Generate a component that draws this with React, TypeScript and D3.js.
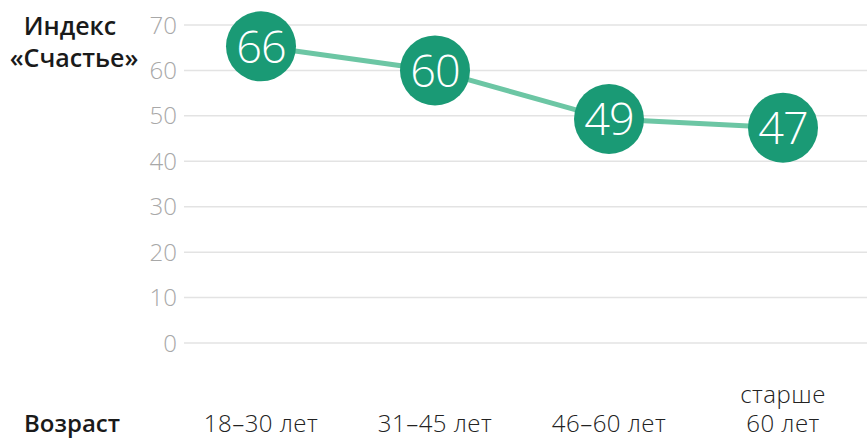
import React from "react";
import * as d3 from "d3";

const categories = ["18–30 лет", "31–45 лет", "46–60 лет", "старше 60 лет"];
const categoryLines = [["18–30 лет"], ["31–45 лет"], ["46–60 лет"], ["старше", "60 лет"]];
const values = [65.3, 60, 49.3, 47.4];
const valueLabels = ["66", "60", "49", "47"];
const yTicks = [0, 10, 20, 30, 40, 50, 60, 70];
const yTitle = ["Индекс", "«Счастье»"];
const xTitle = "Возраст";

const W = 867;
const H = 438;
const FONT = "'Open Sans', 'DejaVu Sans', sans-serif";

export default function App() {
  const x = d3.scalePoint<string>().domain(categories).range([261, 783]);
  const y = d3.scaleLinear().domain([0, 70]).range([343, 25]);
  const line = d3
    .line<number>()
    .x((_, i) => x(categories[i]) as number)
    .y((d) => y(d));

  return (
    <svg
      width={W}
      height={H}
      style={{ position: "absolute", left: 0, top: 0, background: "#fff" }}
      fontFamily={FONT}
    >
      {yTicks.map((t) => (
        <g key={t}>
          <line x1={184} x2={W} y1={y(t)} y2={y(t)} stroke="#e3e3e3" strokeWidth={1.5} />
          <text
            x={177}
            y={y(t)}
            dy="0.36em"
            textAnchor="end"
            fontSize={24}
            fontWeight={300}
            fill="#a8a8a8"
          >
            {t}
          </text>
        </g>
      ))}
      <text textAnchor="middle" fontSize={25} fontWeight={600} fill="#1a1a1a">
        <tspan x={70} y={35}>{yTitle[0]}</tspan>
        <tspan x={74} y={67}>{yTitle[1]}</tspan>
      </text>
      <path d={line(values) || ""} fill="none" stroke="#6cc6a4" strokeWidth={5} />
      {values.map((v, i) => (
        <g key={i} transform={`translate(${x(categories[i])},${y(v)})`}>
          <circle r={35} fill="#1a9a75" />
          <text
            textAnchor="middle"
            dy="0.36em"
            fontSize={45}
            fontWeight={300}
            fill="#fff"
            letterSpacing={-1}
          >
            {valueLabels[i]}
          </text>
        </g>
      ))}
      <text x={24} y={432} fontSize={24} fontWeight={600} fill="#1a1a1a">
        {xTitle}
      </text>
      {categoryLines.map((lines, i) => (
        <text
          key={i}
          textAnchor="middle"
          fontSize={24}
          fontWeight={300}
          fill="#222"
          letterSpacing={0.5}
        >
          {lines.map((l, j) => (
            <tspan key={j} x={x(categories[i])} y={432 - (lines.length - 1 - j) * 29}>
              {l}
            </tspan>
          ))}
        </text>
      ))}
    </svg>
  );
}
